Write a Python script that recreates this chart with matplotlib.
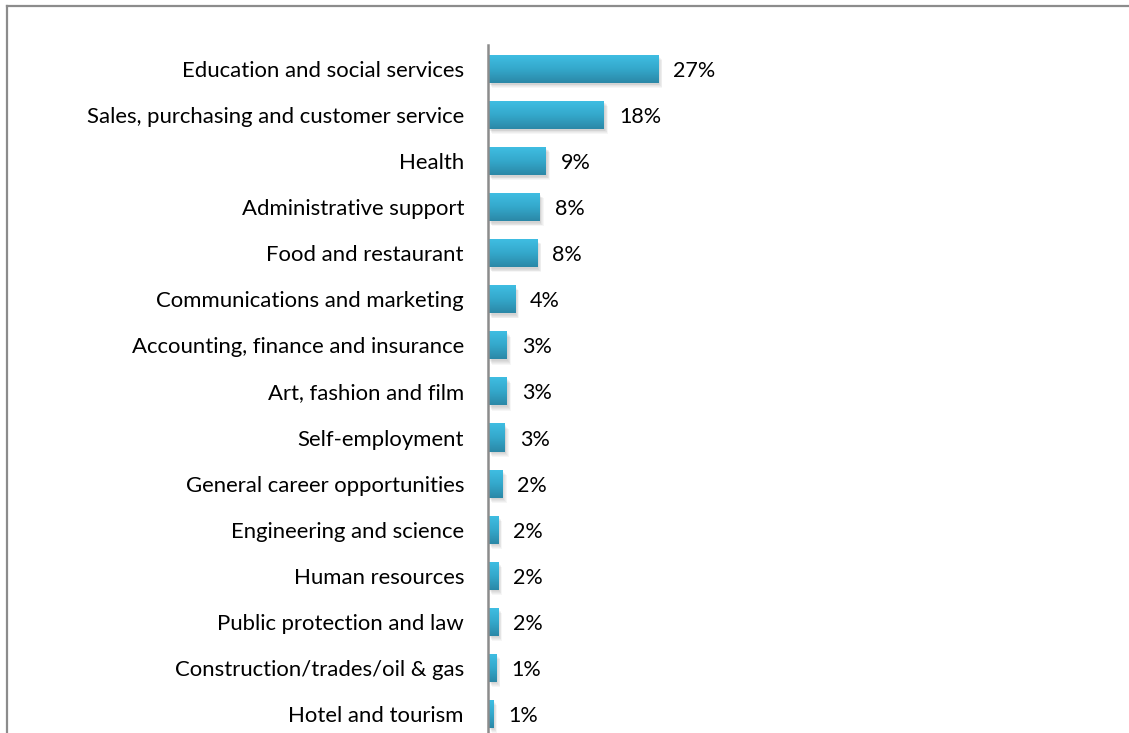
import numpy as np
import matplotlib
matplotlib.use("Agg")
import matplotlib.pyplot as plt
from matplotlib.colors import LinearSegmentedColormap
from matplotlib.lines import Line2D

categories = [
    "Education and social services",
    "Sales, purchasing and customer service",
    "Health",
    "Administrative support",
    "Food and restaurant",
    "Communications and marketing",
    "Accounting, finance and insurance",
    "Art, fashion and film",
    "Self-employment",
    "General career opportunities",
    "Engineering and science",
    "Human resources",
    "Public protection and law",
    "Construction/trades/oil & gas",
    "Hotel and tourism",
]
shares = [27.0, 18.4, 9.2, 8.2, 7.8, 4.3, 3.0, 3.0, 2.65, 2.3, 1.6, 1.6, 1.6, 1.3, 0.8]

plt.rcParams["font.family"] = ["Lato", "DejaVu Sans"]

W, H = 1129, 733
fig = plt.figure(figsize=(W / 100, H / 100), dpi=100)

# outer frame: top and left edges only
fig.add_artist(Line2D([7 / W, 7 / W], [0, 1 - 6 / H], transform=fig.transFigure,
                      color="#8c8c8c", lw=1.6))
fig.add_artist(Line2D([7 / W, 1], [1 - 6 / H, 1 - 6 / H], transform=fig.transFigure,
                      color="#8c8c8c", lw=1.6))

ax_left = 488 / W
ax_top = 45 / H
ax = fig.add_axes([ax_left, 0, 1 - ax_left, 1 - ax_top])

ypos = np.arange(len(categories))
px_per_unit = 6.3
row_px = 46.07
ax.set_xlim(0, (W - 488) / px_per_unit)
ax.set_ylim((733 - 69) / row_px, -(69 - 45) / row_px)

bar_h = 28 / row_px
bars = ax.barh(ypos, shares, height=bar_h, color="none", edgecolor="none", zorder=2)

cmap = LinearSegmentedColormap.from_list("bar", ["#3fbde2", "#34a8cb", "#2b88a7"])
grad = np.linspace(0, 1, 64).reshape(-1, 1)
for rect in bars:
    x0, y0 = rect.get_x(), rect.get_y()
    w, h = rect.get_width(), rect.get_height()
    # soft drop shadow, built from a few faint offset layers
    for k in range(5):
        dx = (1.0 + 0.8 * k) / px_per_unit
        dy = (1.5 + 0.9 * k) / row_px
        s = plt.Rectangle((x0 + dx, y0 + dy), w, h,
                          facecolor="#000000", edgecolor="none", alpha=0.035, zorder=1)
        ax.add_patch(s)
    ax.imshow(grad, cmap=cmap, aspect="auto", extent=(x0, x0 + w, y0 + h, y0),
              zorder=3, interpolation="bilinear")

for y, v in zip(ypos, shares):
    ax.text(v + 15 / px_per_unit, y, f"{round(v):d}%", va="center_baseline", ha="left",
            fontsize=15.5, color="#000000")

ax.set_yticks(ypos)
ax.set_yticklabels(categories, fontsize=15.9, va="center_baseline")
ax.tick_params(axis="y", length=0, pad=24 * 0.72)
ax.set_xticks([])
for side in ("top", "right", "bottom"):
    ax.spines[side].set_visible(False)
ax.spines["left"].set_color("#8c8c8c")
ax.spines["left"].set_linewidth(1.8)
ax.spines["left"].set_zorder(4)
ax.patch.set_alpha(0)

fig.savefig("out.png", dpi=100)
